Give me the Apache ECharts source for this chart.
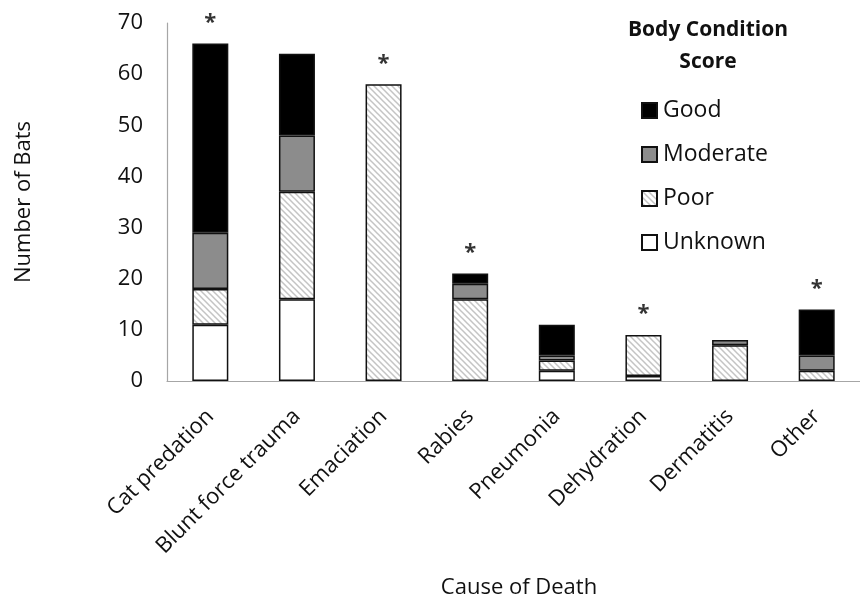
<!DOCTYPE html>
<html><head><meta charset="utf-8">
<script src="https://cdn.jsdelivr.net/npm/echarts@6/dist/echarts.min.js"></script>
<style>html,body{margin:0;padding:0;background:#fff}#c{width:860px;height:599px}</style>
</head><body><div id="c"></div>
<script>
const categories = ['Cat predation','Blunt force trauma','Emaciation','Rabies','Pneumonia','Dehydration','Dermatitis','Other'];
const unknownVals = [11, 16, '-', '-', 2, 1, '-', '-'];
const poorVals = [7, 21, 58, 16, 2, 8, 7, 2];
const moderateVals = [11, 11, '-', 3, 1, '-', 1, 3];
const goodVals = [37, 16, '-', 2, 6, '-', '-', 9];
const significant = [true, false, true, true, false, true, false, true];
const yTicks = [0, 10, 20, 30, 40, 50, 60, 70];

const FONT = '"Open Sans", sans-serif';
const num = v => (typeof v === 'number' ? v : 0);
const totals = categories.map((_, i) => num(unknownVals[i]) + num(poorVals[i]) + num(moderateVals[i]) + num(goodVals[i]));
const starData = totals.map((t, i) => significant[i] ? t : '-');

// hatch pattern for "Poor"
const pc = document.createElement('canvas');
pc.width = 6; pc.height = 6;
const g = pc.getContext('2d');
g.fillStyle = '#ffffff'; g.fillRect(0, 0, 6, 6);
g.strokeStyle = '#c4c4c4'; g.lineWidth = 1.5;
g.beginPath();
g.moveTo(-1, -1); g.lineTo(7, 7);
g.moveTo(-4, 2); g.lineTo(4, 10);
g.moveTo(2, -4); g.lineTo(10, 4);
g.stroke();
const hatch = { image: pc, repeat: 'repeat' };

const chart = echarts.init(document.getElementById('c'), null, { renderer: 'canvas' });
const barBase = { type: 'bar', stack: 'total', barWidth: 36 };
chart.setOption({
  animation: false,
  grid: { left: 167, top: 23, width: 704, height: 358 },
  legend: {
    data: ['Good', 'Moderate', 'Poor', 'Unknown'],
    orient: 'vertical', left: 636, top: 94,
    itemWidth: 15, itemHeight: 15, itemGap: 21,
    textStyle: { fontFamily: FONT, fontSize: 23, color: '#111', padding: [0, 0, 0, 1] },
    icon: 'rect'
  },
  xAxis: {
    type: 'category', data: categories,
    axisLine: { lineStyle: { color: '#a6a6a6', width: 1.2 } },
    axisTick: { show: false },
    axisLabel: { rotate: 45, interval: 0, margin: 32, fontFamily: FONT, fontSize: 22, color: '#111' }
  },
  yAxis: {
    type: 'value', min: 0, max: 70, interval: 10,
    axisLine: { show: true, lineStyle: { color: '#a6a6a6', width: 1.2 } },
    axisTick: { show: false },
    splitLine: { show: false },
    axisLabel: { margin: 24, fontFamily: FONT, fontSize: 22, color: '#111',
      formatter: v => yTicks.includes(v) ? String(v) : '' }
  },
  graphic: [
    { type: 'text', x: 708, y: 14, style: { text: 'Body Condition\nScore', textAlign: 'center', font: 'bold 21px ' + FONT, fill: '#111', lineHeight: 32 } },
    { type: 'text', x: 519, y: 588, style: { text: 'Cause of Death', textAlign: 'center', textVerticalAlign: 'middle', font: '22px ' + FONT, fill: '#111' } },
    { type: 'text', x: 24, y: 202, rotation: Math.PI / 2, style: { text: 'Number of Bats', textAlign: 'center', textVerticalAlign: 'middle', font: '22px ' + FONT, fill: '#111' } }
  ],
  series: [
    Object.assign({}, barBase, { name: 'Unknown', data: unknownVals, itemStyle: { color: '#ffffff', borderColor: '#111', borderWidth: 1.5 } }),
    Object.assign({}, barBase, { name: 'Poor', data: poorVals, itemStyle: { color: hatch, borderColor: '#111', borderWidth: 1.5 } }),
    Object.assign({}, barBase, { name: 'Moderate', data: moderateVals, itemStyle: { color: '#8c8c8c', borderColor: '#111', borderWidth: 1.5 } }),
    Object.assign({}, barBase, { name: 'Good', data: goodVals, itemStyle: { color: '#000000', borderColor: '#111', borderWidth: 1.5 } }),
    { type: 'scatter', name: 'sig', data: starData, symbolSize: 0, silent: true, clip: false,
      label: { show: true, position: 'top', distance: 10, formatter: '*', fontFamily: FONT, fontWeight: 'bold', fontSize: 22, color: '#000' } }
  ]
});
</script></body></html>
